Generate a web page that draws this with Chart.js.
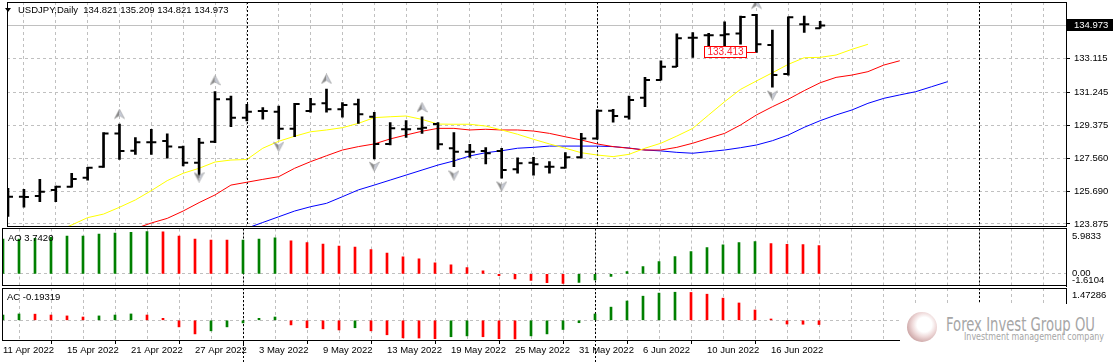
<!DOCTYPE html>
<html>
<head>
<meta charset="utf-8">
<script src="https://cdn.jsdelivr.net/npm/chart.js@4.4.0/dist/chart.umd.min.js"></script>
<style>
html, body { margin: 0; padding: 0; background: #fff; }
#wrap { position: relative; width: 1114px; height: 362px; overflow: hidden; font-family: "Liberation Sans", Arial, sans-serif; }
canvas { position: absolute; left: 0; }
.lbl { position: absolute; font-size: 9.5px; line-height: 10px; color: #000; white-space: nowrap; }
#tri { position: absolute; left: 5px; top: 8px; width: 0; height: 0; border-left: 3px solid transparent; border-right: 3px solid transparent; border-top: 4px solid #000; }
#wm { position: absolute; left: 900px; top: 304px; width: 214px; height: 58px; background: #fff; }
#logo { position: absolute; left: 7px; top: 8px; width: 30px; height: 30px; border-radius: 50%;
  background: radial-gradient(circle at 58% 42%, #fff 0, #fff 30%, #eed8d8 50%, #cfaaaa 72%, #ddd3d3 100%); }
.wmt { position: absolute; white-space: nowrap; color: #a6a6a6; transform-origin: 0 50%; }
#wm1 { left: 46px; top: 9px; font-size: 20px; line-height: 22px; font-family: "Liberation Sans Narrow", "DejaVu Sans Condensed", sans-serif; }
#wm2 { left: 64px; top: 27px; font-size: 11px; line-height: 11px; font-family: "Liberation Sans Narrow", "DejaVu Sans Condensed", sans-serif; }
</style>
</head>
<body>
<div id="wrap">
  <canvas id="main" width="1114" height="250" style="top:-10px"></canvas>
  <canvas id="ao" width="1114" height="80" style="top:218px"></canvas>
  <canvas id="ac" width="1114" height="84" style="top:278px"></canvas>
  <div id="tri"></div>
  <div class="lbl" style="left:18px;top:5px">USDJPY,Daily&nbsp; 134.821 135.209 134.821 134.973</div>
  <div class="lbl" style="left:8px;top:233px">AO 3.7420</div>
  <div class="lbl" style="left:7px;top:292px">AC -0.19319</div>
  <div id="wm">
    <div id="logo"></div>
    <span class="wmt" id="wm1">Forex Invest Group OU</span>
    <span class="wmt" id="wm2">Investment management company</span>
  </div>
</div>
<script>
// bar dates (one per daily bar)
var dates = ['11 Apr 2022','12 Apr 2022','13 Apr 2022','14 Apr 2022','15 Apr 2022','18 Apr 2022','19 Apr 2022','20 Apr 2022','21 Apr 2022','22 Apr 2022',
  '25 Apr 2022','26 Apr 2022','27 Apr 2022','28 Apr 2022','29 Apr 2022','2 May 2022','3 May 2022','4 May 2022','5 May 2022','6 May 2022',
  '9 May 2022','10 May 2022','11 May 2022','12 May 2022','13 May 2022','16 May 2022','17 May 2022','18 May 2022','19 May 2022','20 May 2022',
  '23 May 2022','24 May 2022','25 May 2022','26 May 2022','27 May 2022','30 May 2022','31 May 2022','1 Jun 2022','2 Jun 2022','3 Jun 2022',
  '6 Jun 2022','7 Jun 2022','8 Jun 2022','9 Jun 2022','10 Jun 2022','13 Jun 2022','14 Jun 2022','15 Jun 2022','16 Jun 2022','17 Jun 2022',
  '20 Jun 2022','21 Jun 2022'];

var openP = [124.40,125.40,125.44,125.78,125.96,126.46,127.08,128.94,127.97,128.44,
  128.51,128.16,127.30,128.47,130.85,129.82,130.19,130.15,129.20,130.19,
  130.62,130.29,130.57,129.87,128.35,129.17,129.20,129.46,128.11,127.92,
  127.96,127.96,126.93,127.30,127.08,127.02,127.60,128.66,130.21,129.87,
  130.93,131.92,132.67,134.29,134.42,134.42,134.53,135.56,133.88,132.26,
  135.04,134.821];
var highP = [125.87,125.81,126.37,125.99,126.71,127.04,128.98,129.46,128.70,129.17,
  128.91,128.23,128.66,131.27,131.03,130.57,130.38,130.47,130.62,130.90,
  131.42,130.66,130.86,130.12,129.54,129.65,129.87,129.54,128.99,128.33,
  128.14,128.11,127.58,127.60,127.36,127.86,128.94,130.25,130.29,131.03,
  132.07,133.00,134.50,134.57,134.53,135.18,135.50,135.60,134.72,135.46,
  135.50,135.209];
var lowP = [124.30,124.81,125.12,125.12,125.93,126.33,127.04,127.49,127.77,127.77,
  127.55,127.12,126.48,128.42,129.31,129.63,129.73,128.63,128.75,130.12,
  130.12,129.84,129.50,127.51,128.29,128.72,128.94,128.05,127.08,127.60,
  127.23,126.43,126.71,126.61,126.71,126.99,127.55,128.61,129.56,129.73,
  130.43,131.92,132.67,133.19,133.42,133.70,133.92,133.47,131.52,132.20,
  134.59,134.821];
var closeP = [125.40,125.38,125.68,125.96,126.39,127.02,128.94,127.96,128.44,128.44,
  128.20,127.30,128.42,130.85,129.82,130.15,130.19,129.20,130.58,130.57,
  130.29,130.53,130.01,128.35,129.22,129.17,129.25,128.33,127.92,127.92,
  127.83,126.89,127.27,127.21,127.08,127.60,128.66,130.21,129.91,130.81,
  131.92,132.67,134.26,134.29,134.42,134.48,135.45,133.92,132.20,135.43,
  135.04,134.973];

// alligator lines (shifted forward), first bar index of each
var lipsStart = 3;
var lips = [123.45,123.82,124.23,124.43,124.81,125.22,125.74,126.30,126.71,126.99,
  127.34,127.45,127.48,128.11,128.50,128.78,129.03,129.13,129.26,129.50,
  129.82,129.87,129.91,129.72,129.46,129.45,129.45,129.35,129.13,128.89,
  128.61,128.35,128.11,127.86,127.73,127.64,127.77,128.11,128.39,128.79,
  129.22,129.97,130.71,131.40,131.87,132.33,132.80,133.17,133.19,133.32,
  133.64,133.92];
var teethStart = 8;
var teeth = [123.62,123.93,124.19,124.60,125.07,125.50,126.05,126.21,126.37,126.52,
  126.99,127.36,127.69,128.01,128.20,128.35,128.63,128.85,129.06,129.22,
  129.22,129.13,129.17,129.13,129.13,129.07,128.94,128.75,128.57,128.35,
  128.20,128.11,128.01,128.01,128.16,128.39,128.67,128.94,129.41,129.97,
  130.43,130.85,131.33,131.77,132.07,132.20,132.39,132.76,133.00];
var jawStart = 15;
var jaw = [123.64,123.96,124.28,124.60,124.84,125.03,125.40,125.78,126.05,126.33,
  126.61,126.89,127.17,127.40,127.68,127.86,127.97,128.11,128.16,128.23,
  128.23,128.23,128.23,128.20,128.12,128.01,127.96,127.88,127.83,127.92,
  128.01,128.14,128.29,128.53,128.85,129.28,129.65,129.97,130.25,130.62,
  130.90,131.09,131.27,131.55,131.83];

// fractals
var fractalUpBars = [7, 13, 20, 26, 47];
var fractalUpPrices = [130.02, 131.90, 131.98, 130.39, 136.17];
var fractalDownBars = [12, 17, 23, 28, 31, 48];
var fractalDownPrices = [126.50, 128.20, 127.09, 126.60, 125.99, 131.07];

var priceTicks = [123.875, 125.690, 127.560, 129.375, 131.245, 133.115];
var bidPrice = 134.973;
var markBar = 47;
var markPrice = 133.413;
var monthSeps = [15, 37, 61];

var ao = [4.59,4.60,4.68,4.81,4.98,4.99,5.25,5.37,5.49,5.57,
  5.55,4.98,4.59,4.46,4.45,4.47,4.59,4.76,4.37,4.11,
  3.93,3.67,3.54,3.19,2.75,2.23,1.97,1.44,1.18,0.83,
  0.39,-0.26,-0.66,-0.87,-1.18,-1.27,-1.15,-0.80,-0.35,0.31,
  0.97,1.63,2.29,2.95,3.48,3.83,4.14,4.27,4.00,3.88,
  3.87,3.742];
var aoRange = [-1.6104, 5.9833];
var ac = [0.24,0.29,0.28,0.24,0.20,0.15,0.20,0.24,0.29,0.24,
  0.09,-0.30,-0.62,-0.48,-0.30,-0.12,0.09,0.15,-0.21,-0.34,
  -0.39,-0.44,-0.34,-0.48,-0.66,-0.80,-0.81,-0.84,-0.75,-0.71,
  -0.75,-0.84,-0.85,-0.71,-0.62,-0.42,-0.11,0.29,0.60,0.88,
  1.10,1.24,1.28,1.27,1.19,1.01,0.79,0.47,0.06,-0.17,
  -0.18,-0.19319];
var acRange = [-0.944, 1.47286];

var X_MIN = -0.0625, X_MAX = 66.4375;
var P_MIN = 123.735, P_MAX = 136.284;
var GRID = '#c0c0c0';
var GREEN = '#008000', RED = '#ff0000';
var FONT = '9.5px "Liberation Sans", Arial, sans-serif';

Chart.defaults.font.family = '"Liberation Sans", Arial, sans-serif';
Chart.defaults.font.size = 9.5;
Chart.defaults.color = '#000';
Chart.defaults.animation = false;
Chart.defaults.events = [];
Chart.defaults.plugins.legend.display = false;
Chart.defaults.plugins.tooltip.enabled = false;

function xAxis(showLabels) {
  return {
    type: 'linear', min: X_MIN, max: X_MAX, offset: false,
    afterBuildTicks: function (s) {
      s.ticks = [];
      for (var v = 0; v <= 66; v += 2) s.ticks.push({ value: v });
    },
    grid: {
      color: GRID, drawTicks: showLabels, tickLength: 3, tickBorderDash: [],
      tickColor: function (c) { return c.tick && c.tick.value % 4 === 0 && dates[c.tick.value] ? '#000' : 'rgba(0,0,0,0)'; }
    },
    border: { display: false, dash: [3, 3] },
    ticks: {
      display: showLabels, autoSkip: false, maxRotation: 0, minRotation: 0, align: 'start', padding: 1,
      callback: function (v) { return (v % 4 === 0 && dates[v]) ? dates[v] : ''; }
    },
    afterFit: function (s) { s.height = showLabels ? 21 : 0; }
  };
}

function drawFrame(chart) {
  var a = chart.chartArea, ctx = chart.ctx;
  ctx.save();
  ctx.strokeStyle = '#000';
  ctx.lineWidth = 1;
  var l = Math.floor(a.left) + 0.5, t = Math.floor(a.top) + 0.5;
  var r = Math.round(a.right) + 0.5, b = Math.round(a.bottom) - 0.5;
  ctx.strokeRect(l, t, r - l, b - t);
  ctx.restore();
}

function drawSeps(chart, toBottom) {
  var a = chart.chartArea, ctx = chart.ctx, xs = chart.scales.x;
  ctx.save();
  ctx.strokeStyle = '#000';
  ctx.lineWidth = 1;
  ctx.setLineDash([2, 2]);
  monthSeps.forEach(function (b) {
    var x = Math.round(xs.getPixelForValue(b)) + 0.5;
    ctx.beginPath();
    ctx.moveTo(x, a.top);
    ctx.lineTo(x, toBottom ? chart.height : a.bottom);
    ctx.stroke();
  });
  ctx.restore();
}

function arrowImage(up) {
  var c = document.createElement('canvas');
  c.width = 11; c.height = 11;
  var g = c.getContext('2d');
  if (!up) { g.translate(0, 11); g.scale(1, -1); }
  g.beginPath(); g.moveTo(5.5, 0.5); g.lineTo(5.5, 7); g.lineTo(0.5, 10); g.closePath();
  g.fillStyle = '#8a8a8a'; g.fill();
  g.beginPath(); g.moveTo(5.5, 0.5); g.lineTo(10.5, 10); g.lineTo(5.5, 7); g.closePath();
  g.fillStyle = '#c6cad6'; g.fill();
  g.strokeStyle = '#a0a0a0'; g.lineWidth = 0.6;
  g.beginPath(); g.moveTo(5.5, 0.5); g.lineTo(10.5, 10); g.lineTo(5.5, 7); g.lineTo(0.5, 10); g.closePath(); g.stroke();
  return c;
}

function seriesFrom(start, arr) {
  return arr.map(function (v, k) { return { x: start + k, y: v }; });
}

function pointsAt(bars, prices) {
  return bars.map(function (b, k) { return { x: b, y: prices[k] }; });
}

var mainExtras = {
  id: 'mainExtras',
  beforeDatasetsDraw: function (chart) {
    var a = chart.chartArea, ctx = chart.ctx;
    drawSeps(chart, false);
    var y = Math.round(chart.scales.y.getPixelForValue(bidPrice)) + 0.5;
    ctx.save();
    ctx.strokeStyle = '#c0c0c0';
    ctx.lineWidth = 1;
    ctx.beginPath(); ctx.moveTo(a.left, y); ctx.lineTo(a.right, y); ctx.stroke();
    ctx.restore();
  },
  afterDatasetsDraw: function (chart) {
    var ctx = chart.ctx;
    var x = chart.scales.x.getPixelForValue(markBar);
    var y = Math.round(chart.scales.y.getPixelForValue(markPrice)) - 1;
    ctx.save();
    ctx.font = '10px "Liberation Sans", Arial, sans-serif';
    var txt = markPrice.toFixed(3);
    var w = Math.ceil(ctx.measureText(txt).width) + 6;
    var right = Math.round(x) - 9;
    ctx.fillStyle = '#fff';
    ctx.fillRect(right - w, y - 6, w, 12);
    ctx.strokeStyle = '#ff0000';
    ctx.lineWidth = 1;
    ctx.strokeRect(right - w + 0.5, y - 5.5, w - 1, 11);
    ctx.beginPath(); ctx.moveTo(right, y + 0.5); ctx.lineTo(Math.round(x), y + 0.5); ctx.stroke();
    ctx.fillStyle = '#ff2030';
    ctx.textBaseline = 'middle';
    ctx.textAlign = 'center';
    ctx.fillText(txt, right - w / 2, y + 0.5);
    ctx.restore();
  },
  afterDraw: function (chart) {
    drawFrame(chart);
    var ctx = chart.ctx, a = chart.chartArea;
    var y = Math.round(chart.scales.y.getPixelForValue(bidPrice));
    ctx.save();
    ctx.fillStyle = '#000';
    ctx.fillRect(a.right + 1, y - 6, 46, 12);
    ctx.fillStyle = '#fff';
    ctx.font = FONT;
    ctx.textBaseline = 'middle';
    ctx.fillText(bidPrice.toFixed(3), a.right + 8, y + 0.5);
    ctx.restore();
  }
};

function panelExtras(labels, sepToBottom) {
  return {
    id: 'panelExtras',
    beforeDatasetsDraw: function (chart) { drawSeps(chart, sepToBottom); },
    afterDraw: function (chart) {
      drawFrame(chart);
      var ctx = chart.ctx, a = chart.chartArea, ys = chart.scales.y;
      ctx.save();
      ctx.font = FONT;
      ctx.fillStyle = '#000';
      ctx.textBaseline = 'middle';
      labels.forEach(function (l) {
        var y;
        if (l.where === 'top') y = a.top + 7.5;
        else if (l.where === 'bottom') y = a.bottom - 6;
        else y = ys.getPixelForValue(l.value);
        ctx.fillText(l.text, a.right + 6, y);
      });
      ctx.restore();
    }
  };
}

// main price panel
new Chart(document.getElementById('main'), {
  type: 'bar',
  data: {
    datasets: [
      { type: 'line', showLine: false, data: pointsAt(fractalUpBars, fractalUpPrices),
        pointStyle: arrowImage(true), pointRadius: 5 },
      { type: 'line', showLine: false, data: pointsAt(fractalDownBars, fractalDownPrices),
        pointStyle: arrowImage(false), pointRadius: 5 },
      { type: 'line', showLine: false, data: seriesFrom(0, openP),
        pointStyle: 'dash', pointRadius: 5, pointRotation: 180, pointBorderWidth: 2, pointBorderColor: '#000' },
      { type: 'line', showLine: false, data: seriesFrom(0, closeP),
        pointStyle: 'dash', pointRadius: 5, pointRotation: 0, pointBorderWidth: 2, pointBorderColor: '#000' },
      { type: 'bar', data: highP.map(function (h, i) { return { x: i, y: [lowP[i], h] }; }),
        backgroundColor: '#000', barThickness: 2, borderWidth: 0 },
      { type: 'line', data: seriesFrom(lipsStart, lips), borderColor: '#ffff00', borderWidth: 1, pointRadius: 0, tension: 0 },
      { type: 'line', data: seriesFrom(teethStart, teeth), borderColor: '#ff0000', borderWidth: 1, pointRadius: 0, tension: 0 },
      { type: 'line', data: seriesFrom(jawStart, jaw), borderColor: '#0000ff', borderWidth: 1, pointRadius: 0, tension: 0 }
    ]
  },
  options: {
    responsive: false,
    layout: { padding: { left: 2, top: 12, bottom: 13.5, right: 0 } },
    scales: {
      x: xAxis(false),
      y: {
        position: 'right', min: P_MIN, max: P_MAX,
        afterBuildTicks: function (s) { s.ticks = priceTicks.map(function (v) { return { value: v }; }); },
        ticks: { padding: 4, callback: function (v) { return v.toFixed(3); } },
        grid: { color: GRID, tickColor: '#000', tickLength: 4, tickBorderDash: [] },
        border: { display: true, color: '#000', dash: [3, 3] },
        afterFit: function (s) { s.width = 48; }
      }
    }
  },
  plugins: [mainExtras]
});

function histColors(arr) {
  return arr.map(function (v, i) { return (i === 0 || v >= arr[i - 1]) ? GREEN : RED; });
}

function subPanel(id, values, range, padTop, padBottom, showX, labels) {
  return new Chart(document.getElementById(id), {
    type: 'bar',
    data: {
      datasets: [{ data: seriesFrom(0, values), backgroundColor: histColors(values), barThickness: 2, borderWidth: 0 }]
    },
    options: {
      responsive: false,
      layout: { padding: { left: 2, top: padTop, bottom: padBottom, right: 0 } },
      scales: {
        x: xAxis(showX),
        y: {
          position: 'right', min: range[0], max: range[1],
          afterBuildTicks: function (s) { s.ticks = [{ value: 0 }]; },
          ticks: { display: false },
          grid: { color: GRID, drawTicks: false },
          border: { display: true, color: '#000', dash: [3, 3] },
          afterFit: function (s) { s.width = 48; }
        }
      }
    },
    plugins: [panelExtras(labels, showX)]
  });
}

subPanel('ao', ao, aoRange, 10.5, 12, false, [
  { where: 'top', text: aoRange[1].toFixed(4) },
  { where: 'zero', value: 0, text: '0.00' },
  { where: 'bottom', text: aoRange[0].toFixed(4) }
]);
subPanel('ac', ac, acRange, 10, 0, true, [
  { where: 'top', text: acRange[1].toFixed(5) }
]);

// squeeze the watermark text to its width
function fitWidth(id, w) {
  var el = document.getElementById(id);
  var cur = el.getBoundingClientRect().width;
  if (cur > 0) el.style.transform = 'scaleX(' + (w / cur) + ')';
}
fitWidth('wm1', 149);
fitWidth('wm2', 140);
</script>
</body>
</html>
